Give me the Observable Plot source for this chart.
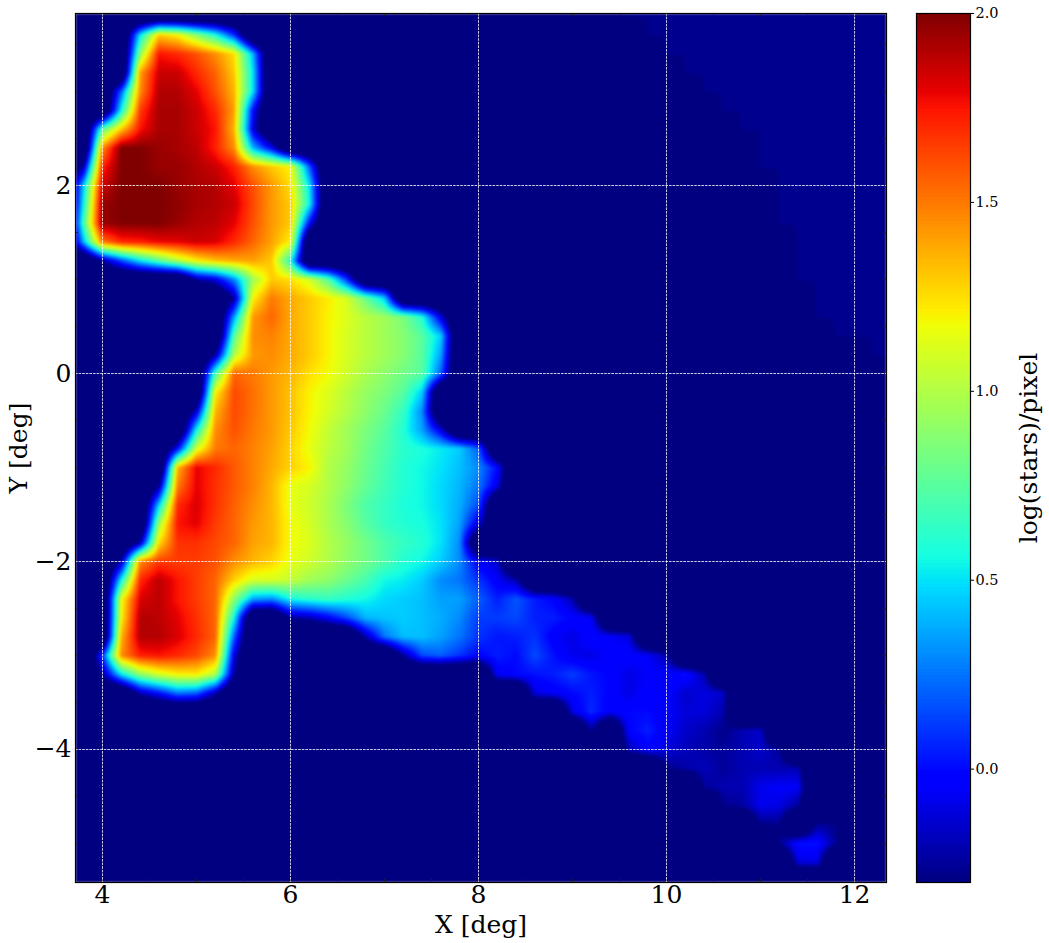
<!DOCTYPE html>
<html>
<head>
<meta charset="utf-8">
<script src="https://cdn.jsdelivr.net/npm/d3@7"></script>
<script src="https://cdn.jsdelivr.net/npm/@observablehq/plot@0.6"></script>
<style>
html,body{margin:0;padding:0;background:#fff;}
#chart{display:flex;width:1049px;height:943px;}
svg{display:block;flex:none;}
</style>
</head>
<body>
<div id="chart"></div>
<script>
// log(stars)/pixel read on a 0.2 deg grid: [row Y, first X, values...]
const upperField = [
  [3.6,4.4,[.5,1.3,1.2,.9,.6,.1]],
  [3.4,4.4,[.9,1.75,1.7,1.6,1.45,1.25,.4]],
  [3.2,4.4,[1.4,1.85,1.85,1.7,1.55,1.3,.5]],
  [3.0,4.2,[.2,1.45,1.9,1.9,1.8,1.6,1.35,.5]],
  [2.8,4.2,[.55,1.65,1.92,1.92,1.85,1.7,1.4,0]],
  [2.6,4.0,[.75,1.3,1.75,1.92,1.92,1.85,1.75,1.35,-.1]],
  [2.4,4.0,[1.45,2,2,1.95,1.92,1.88,1.72,1.45,.4,-.05]],
  [2.2,3.8,[-.2,1.7,2,2,1.95,1.95,1.9,1.85,1.72,1.45,1.3,1.2,.2]],
  [2.0,3.8,[.45,1.85,2,2,2,1.95,1.92,1.9,1.8,1.6,1.42,1.25,.5]],
  [1.8,3.8,[.55,1.95,2,2,2,1.97,1.92,1.9,1.85,1.62,1.42,1.3,.55]],
  [1.6,3.8,[.7,1.95,2,2,2,1.95,1.9,1.88,1.8,1.6,1.42,1.3,0]],
  [1.4,3.8,[.4,1.5,1.7,1.72,1.78,1.8,1.85,1.82,1.7,1.55,1.4,1.2,-.3]],
  [1.2,4.0,[-.25,.15,.5,.75,1.0,1.2,1.32,1.38,1.4,1.3,.6]]
];
const middleField = [
  [1.0,5.0,[-.25,-.1,.3,.95,1.3,1.25,1.1,.75,.1]],
  [0.8,5.4,[-.25,1.2,1.5,1.38,1.3,1.22,1.1,.8,.45]],
  [0.6,5.4,[.35,1.42,1.55,1.38,1.3,1.2,1.12,1.02,.95,.85,.6,-.1]],
  [0.4,5.4,[.75,1.45,1.48,1.38,1.3,1.2,1.1,1.02,.95,.88,.75,.45]],
  [0.2,5.2,[-.25,1.0,1.42,1.45,1.38,1.3,1.2,1.1,1.02,.95,.88,.75,.35]],
  [0.0,5.2,[.7,1.55,1.5,1.42,1.35,1.25,1.18,1.08,.98,.9,.82,.75,.2]],
  [-0.2,5.2,[1.2,1.62,1.52,1.42,1.32,1.2,1.12,1.02,.92,.85,.75,.45]],
  [-0.4,5.0,[-.15,1.35,1.62,1.52,1.42,1.32,1.2,1.1,1.0,.9,.8,.65,.3]],
  [-0.6,5.0,[.55,1.45,1.6,1.5,1.42,1.3,1.18,1.05,.95,.85,.75,.6,.35,-.1]],
  [-0.8,4.8,[0,1.1,1.5,1.55,1.48,1.4,1.28,1.15,1.03,.95,.82,.72,.62,.58,.52,.45,.2]],
  [-1.0,4.8,[1.35,1.8,1.7,1.58,1.48,1.38,1.28,1.2,1.0,.92,.8,.7,.6,.55,.5,.42,.3,0]],
  [-1.2,4.6,[-.25,1.5,1.8,1.68,1.58,1.48,1.35,1.15,1.1,1.0,.9,.78,.68,.6,.55,.48,.4,.25,-.1]],
  [-1.4,4.6,[.45,1.7,1.82,1.68,1.56,1.45,1.35,1.15,1.08,.98,.85,.72,.65,.58,.55,.48,.38,.15]],
  [-1.6,4.6,[.95,1.75,1.8,1.65,1.55,1.42,1.35,1.18,1.1,.98,.88,.75,.65,.6,.57,.5,.35,-.1]],
  [-1.8,4.4,[-.2,1.25,1.68,1.68,1.62,1.55,1.4,1.35,1.18,1.12,1.0,.92,.82,.72,.65,.6,.5,.3]]
];
const lowerField = [
  [-2.0,4.2,[-.2,1.45,1.65,1.65,1.65,1.6,1.45,1.35,1.28,1.15,1.08,1.0,.9,.82,.72,.6,.55,.45,.3,-.05,-.15]],
  [-2.2,4.2,[.55,1.7,1.88,1.75,1.65,1.55,1.28,1.1,1.1,1.05,.95,.9,.8,.7,.55,.52,.45,.3,.25,.1,-.05,-.2]],
  [-2.4,4.2,[1.15,1.82,1.88,1.75,1.65,1.55,.9,.35,.3,.55,.62,.65,.6,.55,.48,.45,.42,.35,.35,.2,.05,.18,.05,-.02,-.2]],
  [-2.6,4.2,[1.2,1.9,1.88,1.8,1.68,1.55,.55]],
  [-2.6,6.0,[-.25,-.2,-.05,.15,.4,.43,.45,.42,.38,.3,.12,.12,.15,.05,.05,-.02,-.05]],
  [-2.8,4.2,[1.35,1.9,1.9,1.82,1.7,1.55,.2]],
  [-2.8,6.8,[-.2,.25,.42,.42,.35,.25,.1,.03,.05,.1,-.05,-.1,0,-.05,-.1]],
  [-3.0,4.0,[.1,1.45,1.72,1.75,1.7,1.62,1.45,-.1]],
  [-3.0,7.2,[-.25,.15,.2,.1,-.02,.05,0,.15,.02,-.08,-.1,-.03,-.02,-.05,-.2]],
  [-3.2,4.0,[-.25,.5,.9,1.1,1.2,1.22,1.0,-.25]],
  [-3.2,8.2,[-.05,0,.02,.05,.12,.03,-.02,-.1,-.05,-.03,.02,-.2]],
  [-3.4,4.4,[-.2,0,.25,.2,-.2]],
  [-3.4,8.6,[-.1,-.05,0,.05,-.02,-.1,-.03,-.02,-.15,-.1,-.15]]
];
const tailField = [
  [-3.6,9.0,[-.1,.08,-.05,0,0,-.05,-.12,-.12,-.2]],
  [-3.8,9.2,[-.25,-.3,-.02,.05,-.05,-.15,-.2,-.28,-.2,-.15]],
  [-4.0,9.6,[-.2,-.03,-.12,-.18,-.22,-.25,-.2,-.15,-.25]],
  [-4.2,10.0,[-.28,-.22,-.18,-.25,-.2,-.2,-.2,-.2]],
  [-4.4,10.4,[-.25,-.2,-.2,-.08,-.05,-.05]],
  [-4.6,10.6,[-.28,-.24,-.08,-.1,-.25]],
  [-4.8,11.0,[-.28,-.28]],
  [-4.8,11.6,[-.25,-.28]],
  [-5.0,11.2,[-.28,.02,.02,-.25]],
  [-5.2,11.4,[-.12,-.1]]
];
// faint upper-right patch: first X of the patch in each row, from Y = 3.8 down
const patchStart = [9.6,9.8,10.0,10.2,10.4,10.6,10.8,11.0,11.0,11.2,11.2,11.2,11.4,11.4,11.4,11.6,11.6,11.8,12.2];
const patchValue = -0.27;
// empty sky sits below the bottom of the colour scale, and the scale clamps it
const belowScale = -0.8;

const xTicks = [4,6,8,10,12];
const yTicks = [-4,-2,0,2];
const xMinor = [4,4.5,5,5.5,6,6.5,7,7.5,8,8.5,9,9.5,10,10.5,11,11.5,12];
const yMinor = [-5,-4.5,-4,-3.5,-3,-2.5,-2,-1.5,-1,-.5,0,.5,1,1.5,2,2.5,3,3.5];
const barTicks = [0,0.5,1,1.5,2];

// matplotlib jet, its breakpoints on t in [0,1]
const jetStops = [0,.11,.125,.34,.35,.375,.64,.65,.66,.89,.91,1];
const jetColors = ["#000080","#0000ff","#0000ff","#00dbff","#00e6f7","#15ffe2","#efff08","#f7f500","#ffec00","#ff1400","#e80000","#800000"];
const vMin = -0.3, vMax = 2;
const color = {type:"linear", domain: jetStops.map(t => vMin + t*(vMax-vMin)), range: jetColors, clamp:true};

const cols = 45, rows = 47, step = 0.2;
const firstX = 3.6, firstY = 3.8;
const cells = new Array(cols*rows).fill(belowScale);
patchStart.forEach((xs,r) => {
  for (let c = Math.round((xs-firstX)/step); c < cols; c++) cells[r*cols+c] = patchValue;
});
[...upperField, ...middleField, ...lowerField, ...tailField].forEach(([y,x0,vals]) => {
  const r = Math.round((firstY-y)/step), c0 = Math.round((x0-firstX)/step);
  vals.forEach((v,i) => { cells[r*cols+c0+i] = v <= vMin ? belowScale : v; });
});
// read the grid in value space, so that every pixel goes through the colour scale
const readGrid = (x,y) => {
  const fx = Math.max(0,Math.min(cols-1.001,(x-firstX)/step));
  const fy = Math.max(0,Math.min(rows-1.001,(firstY-y)/step));
  const c = Math.floor(fx), r = Math.floor(fy), u = fx-c, w = fy-r;
  const at = (i,j) => cells[j*cols+i];
  return (at(c,r)*(1-u)+at(c+1,r)*u)*(1-w) + (at(c,r+1)*(1-u)+at(c+1,r+1)*u)*w;
};

const font = "'DejaVu Serif', serif";
const main = Plot.plot({
  width:900, height:943,
  marginLeft:75, marginRight:14, marginTop:13, marginBottom:61,
  x:{domain:[3.713,12.34]},
  y:{domain:[-5.415,3.83]},
  color,
  style:{fontFamily:font, background:"#fff", color:"#000"},
  marks:[
    Plot.raster({fill:readGrid,x1:3.713,x2:12.34,y1:3.83,y2:-5.415,width:811,height:869,imageRendering:"auto",imageFilter:"blur(0.8px)",clip:true}),
    Plot.tickX(xMinor,{x:d=>d,insetTop:866,stroke:"#222"}),
    Plot.tickX(xMinor,{x:d=>d,insetBottom:866,stroke:"#222"}),
    Plot.tickY(yMinor,{y:d=>d,insetRight:808,stroke:"#222"}),
    Plot.tickY(yMinor,{y:d=>d,insetLeft:808,stroke:"#222"}),
    Plot.gridX(xTicks,{stroke:"#fff",strokeOpacity:1,strokeWidth:0.8,strokeDasharray:"2.6,1"}),
    Plot.gridY(yTicks,{stroke:"#fff",strokeOpacity:1,strokeWidth:0.8,strokeDasharray:"2.6,1"}),
    Plot.frame({stroke:"#000",strokeWidth:1.2}),
    Plot.axisX({ticks:xTicks,tickSize:0,tickPadding:3,fontSize:25,label:"X [deg]",labelAnchor:"center",labelArrow:"none",labelOffset:50}),
    Plot.axisY({ticks:yTicks,tickSize:0,tickPadding:4,fontSize:25,label:"Y [deg]",labelAnchor:"center",labelArrow:"none",labelOffset:66})
  ]
});
const bar = Plot.plot({
  width:149, height:943,
  marginLeft:16, marginRight:79, marginTop:13, marginBottom:61,
  x:{domain:[0,1],axis:null},
  y:{domain:[vMin,vMax]},
  color,
  style:{fontFamily:font, background:"#fff", color:"#000"},
  marks:[
    Plot.raster({fill:(x,y)=>y,width:1,height:256,x1:0,x2:1,y1:vMax,y2:vMin,imageRendering:"pixelated"}),
    Plot.frame({stroke:"#000",strokeWidth:1.2}),
    Plot.axisY({anchor:"right",ticks:barTicks,tickFormat:d3.format(".1f"),tickSize:3,tickPadding:2,fontSize:14.5,label:null}),
    Plot.axisY({anchor:"right",ticks:[],tickSize:0,fontSize:25,label:"log(stars)/pixel",labelAnchor:"center",labelArrow:"none",labelOffset:66})
  ]
});
document.getElementById("chart").append(main, bar);
</script>
</body>
</html>
